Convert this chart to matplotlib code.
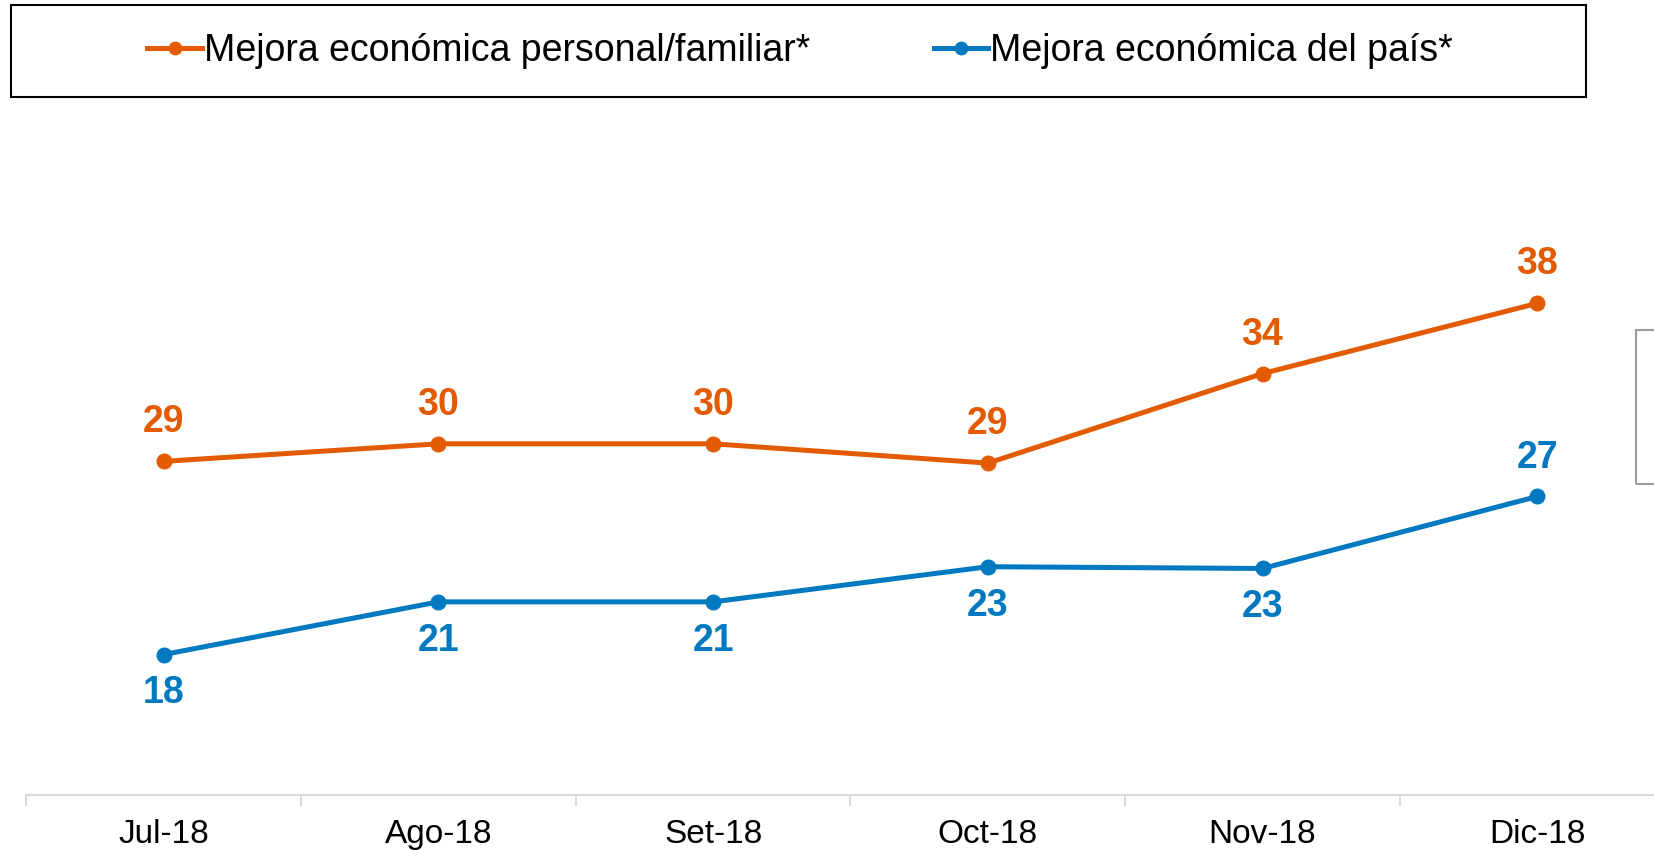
import matplotlib.pyplot as plt
from matplotlib.patches import Rectangle

plt.rcParams['font.family'] = ['Liberation Sans', 'DejaVu Sans']

meses = ["Jul-18", "Ago-18", "Set-18", "Oct-18", "Nov-18", "Dic-18"]
personal = [29, 30, 30, 28.9, 34, 38]
pais = [18, 21, 21, 23, 22.9, 27]
etiquetas_personal = ["29", "30", "30", "29", "34", "38"]
etiquetas_pais = ["18", "21", "21", "23", "23", "27"]
# posicion de la etiqueta: 1 arriba, -1 abajo
lado_pais = [-1, -1, -1, -1, -1, 1]

naranja = "#E35B00"
azul = "#0079C1"

W, H = 1654, 850
fig = plt.figure(figsize=(W / 100, H / 100), dpi=100)

# eje en pixeles: izquierda 26, base 795, ancho 6 categorias de 274.7 px
left, bottom, top = 26.4, 795, 120
ax = fig.add_axes([left / W, 1 - bottom / H, 6 * 274.7 / W, (bottom - top) / H])
x = list(range(len(meses)))

l1, = ax.plot(x, personal, color=naranja, lw=3.6, marker="o", ms=10.5,
              label="Mejora económica personal/familiar*")
l2, = ax.plot(x, pais, color=azul, lw=3.6, marker="o", ms=10.5,
              label="Mejora económica del país*")

for i in x:
    ax.annotate(etiquetas_personal[i], (i, personal[i]), xytext=(0, 28),
                textcoords="offset points", ha="center", va="center",
                fontsize=27, fontweight="bold", color=naranja)
    ax.annotate(etiquetas_pais[i], (i, pais[i]), xytext=(0, 28 * lado_pais[i]),
                textcoords="offset points", ha="center", va="center",
                fontsize=27, fontweight="bold", color=azul)

ppu = 17.56
ax.set_ylim(10, 10 + (bottom - top) / ppu)
ax.set_xlim(-0.5, 5.5)
ax.set_yticks([])
for s in ["top", "right", "left"]:
    ax.spines[s].set_visible(False)
ax.spines["bottom"].set_color("#d9d9d9")
ax.spines["bottom"].set_linewidth(1.5)

ax.set_xticks([i + 0.5 for i in range(-1, 6)], minor=False)
ax.set_xticklabels([])
ax.tick_params(axis="x", which="major", length=8, width=1.5, color="#d9d9d9")
ax.set_xticks(x, minor=True)
ax.set_xticklabels(meses, minor=True, fontsize=24)
ax.tick_params(axis="x", which="minor", length=0, pad=17)

# recuadro de la leyenda
fig.patches.append(Rectangle((10.5 / W, 1 - 97 / H), (1586 - 10.5) / W, 92 / H,
                             transform=fig.transFigure, fill=False,
                             edgecolor="black", lw=1.5))
fig.legend(handles=[l1, l2], loc="center", bbox_to_anchor=(800 / W, 1 - 51 / H),
           ncol=2, frameon=False, fontsize=27, handlelength=1.45,
           handletextpad=0.05, columnspacing=3.3, markerscale=0.85)

# recuadro gris cortado al borde derecho
fig.patches.append(Rectangle((1636 / W, 1 - 484 / H), 40 / W, 154 / H,
                             transform=fig.transFigure, fill=False,
                             edgecolor="#a09a98", lw=1.5))

fig.savefig("out.png", dpi=100)
